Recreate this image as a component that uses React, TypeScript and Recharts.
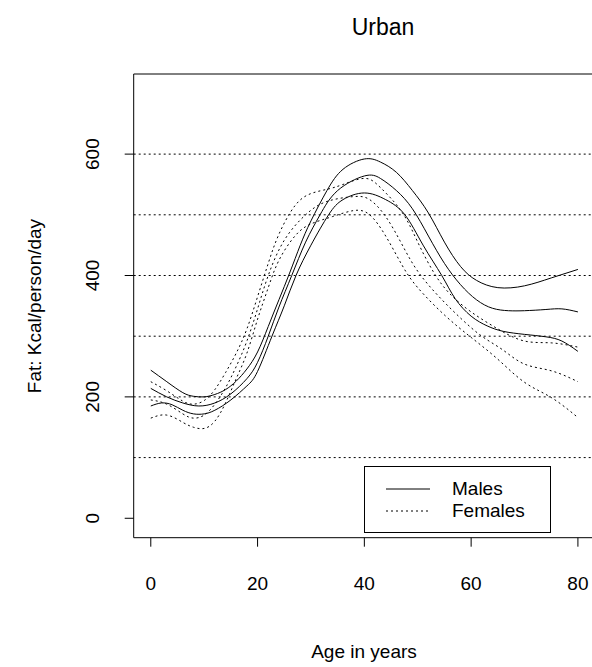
import React from 'react';
import { LineChart, Line, XAxis, YAxis, ReferenceLine, ReferenceArea, Legend } from 'recharts';

// [age, fat kcal/person/day]
const maleUpper: [number, number][] = [
  [0, 244], [3, 225], [6, 207], [8, 201], [10, 200], [12, 204], [14, 212], [16, 226], [18, 246],
  [20, 274], [22, 316], [24, 360], [26, 404], [28, 450], [30, 490], [33, 540], [36, 575], [40, 592],
  [43, 587], [46, 570], [49, 540], [52, 503], [55, 455], [58, 415], [61, 392], [65, 380], [70, 383],
  [75, 396], [80, 410],
];
const maleMid: [number, number][] = [
  [0, 214], [3, 200], [6, 190], [9, 185], [12, 190], [15, 205], [18, 230], [20, 257], [22, 300],
  [24, 348], [26.4, 400], [29, 455], [31.7, 500], [35, 540], [40, 564], [43, 560], [46, 540],
  [49, 510], [52, 465], [55, 420], [58, 385], [61, 360], [64, 346], [67, 342], [70, 342], [74, 344],
  [77, 345], [80, 340],
];
const maleLower: [number, number][] = [
  [0, 185], [2, 190], [4, 187], [6, 178], [8, 172], [10, 172], [12, 178], [15, 195], [18, 218],
  [20, 242], [22.7, 300], [25, 350], [27.2, 400], [30, 450], [33.3, 500], [36, 525], [40, 536],
  [44, 525], [47.6, 500], [51, 450], [54.5, 400], [57, 362], [60, 333], [63, 317], [66, 308],
  [70, 303], [74, 299], [77, 292], [80, 275],
];
const femaleUpper: [number, number][] = [
  [0, 225], [3, 210], [6, 193], [8, 188], [10, 194], [12, 212], [14, 240], [16, 272], [18, 312],
  [20, 365], [22, 420], [24, 468], [27, 515], [30, 535], [33, 542], [36, 550], [40, 560], [43, 545],
  [47, 505], [50, 455], [53, 405], [56, 370], [60, 340], [65, 312], [70, 292], [75, 289], [80, 282],
];
const femaleMid: [number, number][] = [
  [0, 195], [3, 188], [6, 172], [8, 165], [10, 170], [12, 188], [14, 215], [16, 250], [18, 292],
  [20, 345], [22, 400], [25, 458], [29, 500], [33, 522], [38, 530], [41, 525], [44, 497], [47, 452],
  [50, 407], [54, 365], [58, 330], [62, 300], [66, 277], [70, 254], [75, 243], [80, 225],
];
const femaleLower: [number, number][] = [
  [0, 165], [3, 170], [6, 158], [8, 150], [10, 148], [12, 160], [14, 190], [16, 230], [18, 272],
  [20, 328], [22, 380], [24, 425], [27, 465], [30, 485], [34, 497], [38, 507], [41, 500], [44, 465],
  [47, 418], [50, 380], [55, 335], [60, 298], [65, 262], [70, 224], [75, 199], [80, 166],
];

const xTicks = [0, 20, 40, 60, 80];
const yTicks = [0, 200, 400, 600];
const gridLines = [100, 200, 300, 400, 500, 600];

const FONT = "'Liberation Sans', Arial, Helvetica, sans-serif";
const X_DOMAIN: [number, number] = [-3.2, 83.2];
const Y_DOMAIN: [number, number] = [-32, 732];

const toPoints = (pairs: [number, number][]) => pairs.map(([age, fat]) => ({ age, fat }));

const series = [
  { key: 'mu', data: maleUpper, dash: undefined },
  { key: 'mm', data: maleMid, dash: undefined },
  { key: 'ml', data: maleLower, dash: undefined },
  { key: 'fu', data: femaleUpper, dash: '2 3' },
  { key: 'fm', data: femaleMid, dash: '2 3' },
  { key: 'fl', data: femaleLower, dash: '2 3' },
];

const YTick = (props: any) => {
  const { x, y, payload } = props;
  return (
    <text
      x={x}
      y={y}
      transform={`rotate(-90 ${x} ${y})`}
      textAnchor="middle"
      dominantBaseline="central"
      fontSize={19}
      fontFamily={FONT}
      fill="#000"
    >
      {payload.value}
    </text>
  );
};

const LegendBox = () => (
  <div
    style={{
      width: 187,
      height: 67,
      border: '1px solid #000',
      boxSizing: 'border-box',
      background: '#fff',
      position: 'relative',
      fontFamily: FONT,
      fontSize: 19,
    }}
  >
    {[
      { label: 'Males', dash: undefined, top: 22 },
      { label: 'Females', dash: '2 3', top: 44 },
    ].map((item) => (
      <React.Fragment key={item.label}>
        <svg width={44} height={4} style={{ position: 'absolute', left: 21, top: item.top - 2 }}>
          <line x1={0} y1={2} x2={44} y2={2} stroke="#000" strokeWidth={1} strokeDasharray={item.dash} />
        </svg>
        <div style={{ position: 'absolute', left: 87, top: item.top - 11, lineHeight: '22px', color: '#000' }}>
          {item.label}
        </div>
      </React.Fragment>
    ))}
  </div>
);

export default function App() {
  return (
    <div style={{ position: 'absolute', left: 0, top: 0, width: 592, height: 667, overflow: 'hidden', background: '#fff' }}>
      <LineChart width={600} height={667} margin={{ top: 74, right: 5, bottom: 99.3, left: 73.7 }}>
        <XAxis
          dataKey="age"
          type="number"
          domain={X_DOMAIN}
          ticks={xTicks}
          allowDataOverflow
          axisLine={false}
          tickSize={9}
          tickMargin={29.6}
          tickLine={{ stroke: '#000' }}
          tick={{ fill: '#000', fontSize: 19, fontFamily: FONT }}
          height={30}
        />
        <YAxis
          type="number"
          domain={Y_DOMAIN}
          ticks={yTicks}
          allowDataOverflow
          axisLine={false}
          tickSize={9}
          tickMargin={31.7}
          tickLine={{ stroke: '#000' }}
          tick={<YTick />}
          width={60}
        />
        {gridLines.map((v) => (
          <ReferenceLine key={v} y={v} stroke="#000" strokeDasharray="2 3" strokeWidth={1} />
        ))}
        <ReferenceArea x1={X_DOMAIN[0]} x2={X_DOMAIN[1]} y1={Y_DOMAIN[0]} y2={Y_DOMAIN[1]} fill="none" stroke="#000" strokeWidth={1} fillOpacity={0} />
        {series.map((s) => (
          <Line
            key={s.key}
            data={toPoints(s.data)}
            dataKey="fat"
            type="natural"
            stroke="#000"
            strokeWidth={1}
            strokeDasharray={s.dash}
            dot={false}
            activeDot={false}
            isAnimationActive={false}
          />
        ))}
        <Legend
          layout="horizontal"
          verticalAlign="middle"
          align="center"
          content={() => <LegendBox />}
          wrapperStyle={{ position: 'absolute', left: 364, top: 466, width: 187, height: 67 }}
        />
      </LineChart>
      <div style={{ position: 'absolute', left: 283, width: 200, top: 12, textAlign: 'center', fontFamily: FONT, fontSize: 23, lineHeight: '30px' }}>
        Urban
      </div>
      <div style={{ position: 'absolute', left: 264, width: 200, top: 640, textAlign: 'center', fontFamily: FONT, fontSize: 19, lineHeight: '24px' }}>
        Age in years
      </div>
      <div
        style={{
          position: 'absolute',
          left: 35 - 150,
          top: 306 - 12,
          width: 300,
          textAlign: 'center',
          fontFamily: FONT,
          fontSize: 19,
          lineHeight: '24px',
          transform: 'rotate(-90deg)',
        }}
      >
        Fat: Kcal/person/day
      </div>
    </div>
  );
}
